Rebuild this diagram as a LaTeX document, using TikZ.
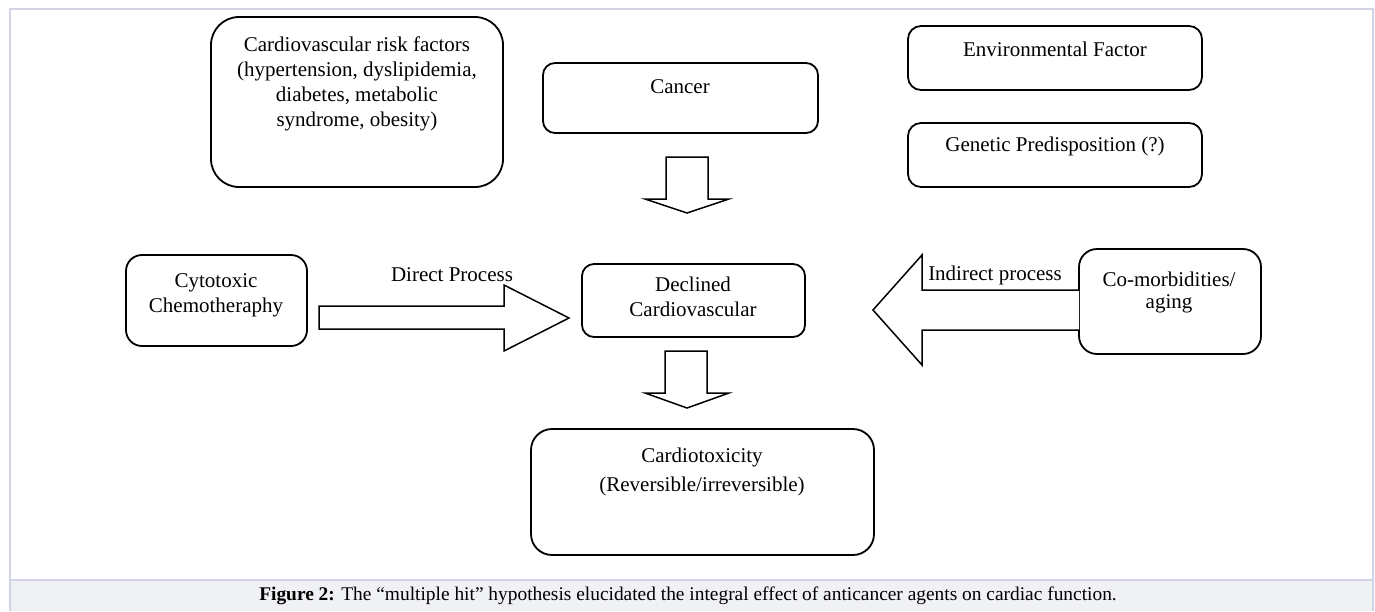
\documentclass[tikz,border=0pt]{standalone}
\usepackage{fontspec}
\setmainfont{Liberation Serif}
\definecolor{framecol}{HTML}{D3D3E6}
\definecolor{capbg}{HTML}{F0F1F5}
\begin{document}
\begin{tikzpicture}[x=1pt,y=-1pt,
  box/.style={draw=black,line width=1.8pt,inner sep=0pt},
  txt/.style={align=center,font=\fontsize{21}{25}\selectfont,inner sep=0pt},
  blockarrow/.style={draw=black,line width=1.5pt,fill=white,line join=miter}]
\useasboundingbox (0,0) rectangle (1375,611);
% frame and caption band
\fill[capbg] (10,580) rectangle (1373,611);
\draw[framecol,line width=1.2pt] (10,611) -- (10,9) -- (1373,9) -- (1373,611);
\draw[framecol,line width=1.2pt] (10,580) -- (1373,580);
\node[txt,font=\fontsize{19.4}{24}\selectfont] (cap) at (688,596) {\textbf{Figure 2:} The “multiple hit” hypothesis elucidated the integral effect of anticancer agents on cardiac function.};
% boxes
\draw[box,rounded corners=28pt] (211,17) rectangle (503,187);
\node[txt] (risk) at (357,84) {Cardiovascular risk factors\\(hypertension, dyslipidemia,\\diabetes, metabolic\\syndrome, obesity)};
\draw[box,rounded corners=12pt] (543,63) rectangle (818,133);
\node[txt] (cancer) at (680,87) {Cancer};
\draw[box,rounded corners=13pt] (908,26) rectangle (1202,90);
\node[txt] (env) at (1055,49) {Environmental Factor};
\draw[box,rounded corners=13pt] (908,123) rectangle (1202,187);
\node[txt] (gen) at (1055,146) {Genetic Predisposition (?)};
\draw[box,rounded corners=16pt] (126,255) rectangle (307,346);
\node[txt] (cyto) at (216,295) {Cytotoxic\\Chemotheraphy};
\draw[box,rounded corners=12pt] (582,264) rectangle (805,337);
\node[txt] (decl) at (693,297) {Declined\\Cardiovascular};
\draw[box,rounded corners=18pt] (1079,249) rectangle (1261,354);
\node[txt,font=\fontsize{21}{22}\selectfont] (comorb) at (1169,292) {Co-morbidities/\\aging};
\draw[box,rounded corners=21pt] (531,429) rectangle (874,555);
\node[txt,font=\fontsize{21}{29}\selectfont] (tox) at (702,472) {Cardiotoxicity\\(Reversible/irreversible)};
% block arrows
\draw[blockarrow] (666,157) -- (708,157) -- (708,199) -- (729,199) -- (687,213) -- (645,199) -- (666,199) -- cycle;
\draw[blockarrow] (665,351) -- (707,351) -- (707,393) -- (729,393) -- (687,408) -- (645,393) -- (665,393) -- cycle;
\draw[blockarrow] (319,306) -- (504,306) -- (504,285) -- (569,318) -- (504,351) -- (504,329) -- (319,329) -- cycle;
\draw[blockarrow] (1079,290) -- (922,290) -- (922,255) -- (873,310) -- (922,365) -- (922,330) -- (1079,330);
% labels
\node[txt] (direct) at (452,275) {Direct Process};
\node[txt] (indirect) at (995,275) {Indirect process};
\end{tikzpicture}
\end{document}
